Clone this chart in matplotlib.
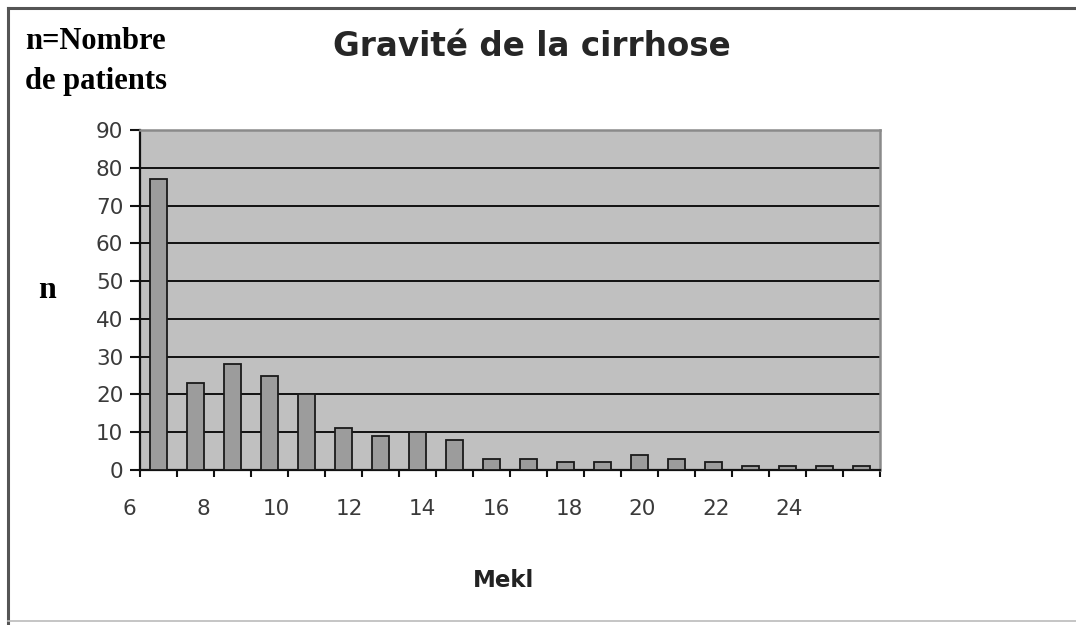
import numpy as np
import matplotlib
matplotlib.use("Agg")
import matplotlib.pyplot as plt
from matplotlib.lines import Line2D
import matplotlib.transforms as mtransforms

# effectifs par classe de score (20 classes)
valeurs = [77, 23, 28, 25, 20, 11, 9, 10, 8, 3, 3, 2, 2, 4, 3, 2, 1, 1, 1, 1]
etiquettes_x = ["6", "8", "10", "12", "14", "16", "18", "20", "22", "24"]
graduations_y = [0, 10, 20, 30, 40, 50, 60, 70, 80, 90]

fig = plt.figure(figsize=(10.76, 6.25), dpi=100)
fig.patch.set_facecolor("white")

ax = fig.add_axes([0.1301, 0.248, 0.6877, 0.544])
ax.set_facecolor("#c0c0c0")

pos = np.arange(len(valeurs))
ax.bar(pos, valeurs, width=0.46, color="#9c9c9c", edgecolor="#1a1a1a", linewidth=1.3, zorder=3)

ax.set_xlim(-0.5, len(valeurs) - 0.5)
ax.set_ylim(0, 90)
ax.set_yticks(graduations_y)
ax.set_yticklabels([str(v) for v in graduations_y], fontsize=15.5,
                   family="DejaVu Sans", color="#3a3a3a")
ax.yaxis.grid(True, color="#111111", linewidth=1.4, zorder=1)
ax.set_axisbelow(True)

ax.set_xticks(np.arange(-0.5, len(valeurs), 1.0))
ax.set_xticklabels([])
ax.tick_params(axis="x", direction="out", length=5, width=1.5, color="#111111")
ax.tick_params(axis="y", direction="out", length=7, width=1.5, color="#111111", pad=5)

for s in ["left", "bottom"]:
    ax.spines[s].set_color("#111111")
    ax.spines[s].set_linewidth(1.6)
for s in ["top", "right"]:
    ax.spines[s].set_color("#8a8a8a")
    ax.spines[s].set_linewidth(1.8)

# etiquettes decalees comme dans l'original
trans = mtransforms.blended_transform_factory(ax.transData, ax.transAxes)
for k, lab in enumerate(etiquettes_x):
    ax.text(-0.78 + 1.98 * k, -0.115, lab, transform=trans, ha="center", va="center",
            fontsize=15.5, family="DejaVu Sans", color="#3a3a3a", clip_on=False)

fig.text(0.494, 0.926, "Gravité de la cirrhose", ha="center", va="center",
         fontsize=23.5, family="DejaVu Sans", weight="bold", color="#262626")
fig.text(0.023, 0.934, "n=Nombre", ha="left", va="center", fontsize=22,
         family="Liberation Serif", weight="bold", color="black")
fig.text(0.023, 0.87, "de patients", ha="left", va="center", fontsize=22,
         family="Liberation Serif", weight="bold", color="black")
fig.text(0.035, 0.536, "n", ha="left", va="center", fontsize=23,
         family="Liberation Serif", weight="bold", color="black")
fig.text(0.468, 0.071, "Mekl", ha="center", va="center", fontsize=16.5,
         family="DejaVu Sans", weight="bold", color="#222222")

# cadre autour de la figure
fig.add_artist(Line2D([0.0075, 1.0], [0.987, 0.987], color="#555555", linewidth=2.2))
fig.add_artist(Line2D([0.0075, 0.0075], [0.004, 0.987], color="#555555", linewidth=2.2))
fig.add_artist(Line2D([0.0075, 1.0], [0.006, 0.006], color="#bbbbbb", linewidth=1.2))

fig.savefig("out.png", dpi=100)
plt.close(fig)
